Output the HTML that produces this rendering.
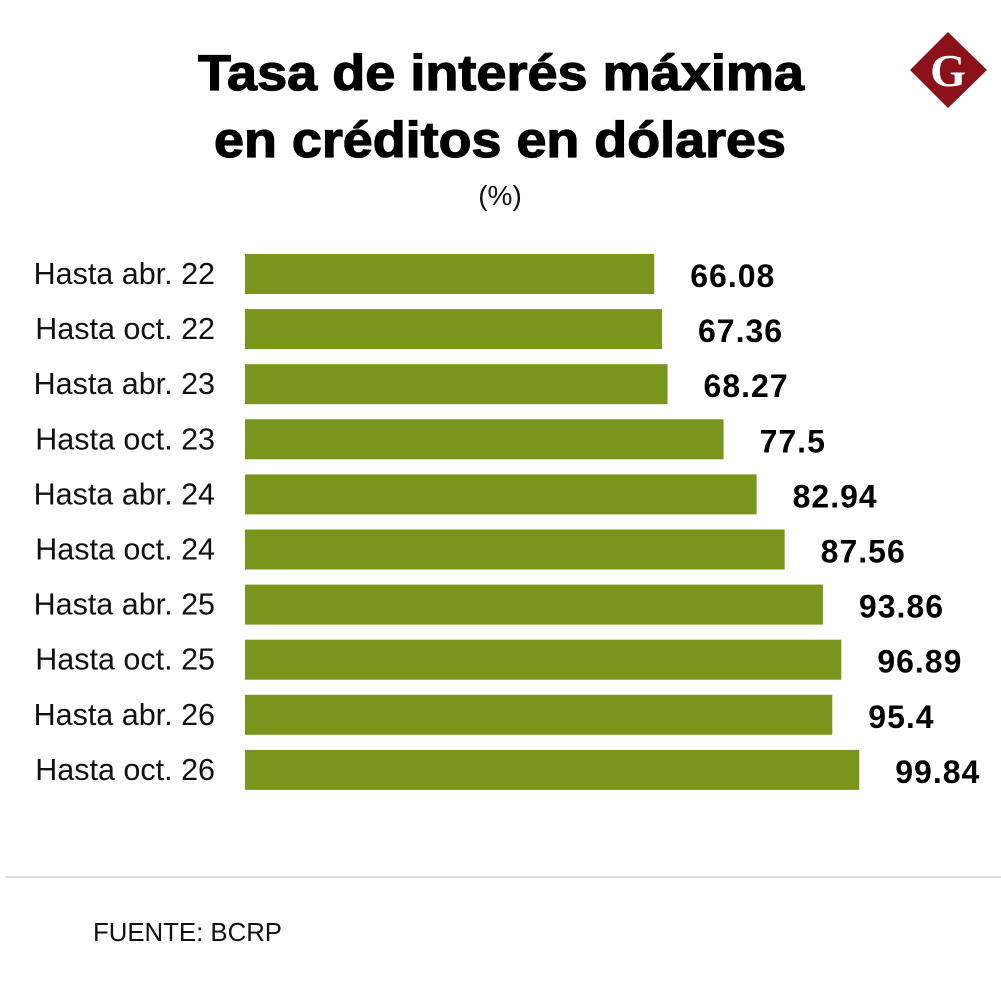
<!DOCTYPE html>
<html><head><meta charset="utf-8"><style>
body{margin:0;background:#fff;width:1001px;height:994px;overflow:hidden;font-family:"Liberation Sans",sans-serif}
</style></head><body>
<svg width="1001" height="994" xmlns="http://www.w3.org/2000/svg">
<g font-family="Liberation Sans" font-weight="bold" font-size="50" text-anchor="middle" fill="#000" stroke="#000" stroke-width="1.2">
<text x="501" y="90" textLength="606" lengthAdjust="spacingAndGlyphs">Tasa de interés máxima</text>
<text x="500" y="157" textLength="572" lengthAdjust="spacingAndGlyphs">en créditos en dólares</text>
</g>
<text x="500" y="205" text-anchor="middle" font-size="28" fill="#111">(%)</text>
<g>
<polygon points="948,32 987,70 948,108 910,70" fill="#8c1018"/>
<text x="948" y="86" text-anchor="middle" font-family="Liberation Serif" font-weight="bold" font-size="46" fill="#fff">G</text>
</g>
<g id="bars"></g>
<line x1="5" y1="877" x2="1001" y2="877" stroke="#bbb" stroke-width="1"/>
<text x="93" y="941" font-size="26" textLength="189" lengthAdjust="spacingAndGlyphs" fill="#111">FUENTE: BCRP</text>
</svg>
<script>
const categories=["Hasta abr. 22","Hasta oct. 22","Hasta abr. 23","Hasta oct. 23","Hasta abr. 24","Hasta oct. 24","Hasta abr. 25","Hasta oct. 25","Hasta abr. 26","Hasta oct. 26"];
const values=[66.08,67.36,68.27,77.5,82.94,87.56,93.86,96.89,95.4,99.84];
const valueLabels=["66.08","67.36","68.27","77.5","82.94","87.56","93.86","96.89","95.4","99.84"];
const NS="http://www.w3.org/2000/svg";
const g=document.getElementById('bars');
function x(v){return 253+v*6.072;}
function y(i){return 254+i*55.1;}
categories.forEach((c,i)=>{
  const r=document.createElementNS(NS,'rect');
  r.setAttribute('x',245);r.setAttribute('y',y(i));
  r.setAttribute('width',x(values[i])-245);r.setAttribute('height',40);
  r.setAttribute('fill','#7a951b');
  
  
  g.appendChild(r);
  const t=document.createElementNS(NS,'text');
  t.setAttribute('x',215);t.setAttribute('y',y(i)+30);
  t.setAttribute('text-anchor','end');t.setAttribute('font-size','30.5');t.setAttribute('fill','#111');
  t.textContent=c;
  
  
  g.appendChild(t);
  const v=document.createElementNS(NS,'text');
  v.setAttribute('x',x(values[i])+36);v.setAttribute('y',y(i)+33);
  v.setAttribute('font-size','32');v.setAttribute('font-weight','bold');v.setAttribute('fill','#000');
  v.setAttribute('letter-spacing','1');
  v.textContent=valueLabels[i];
  
  
  g.appendChild(v);
});
</script>
</body></html>
